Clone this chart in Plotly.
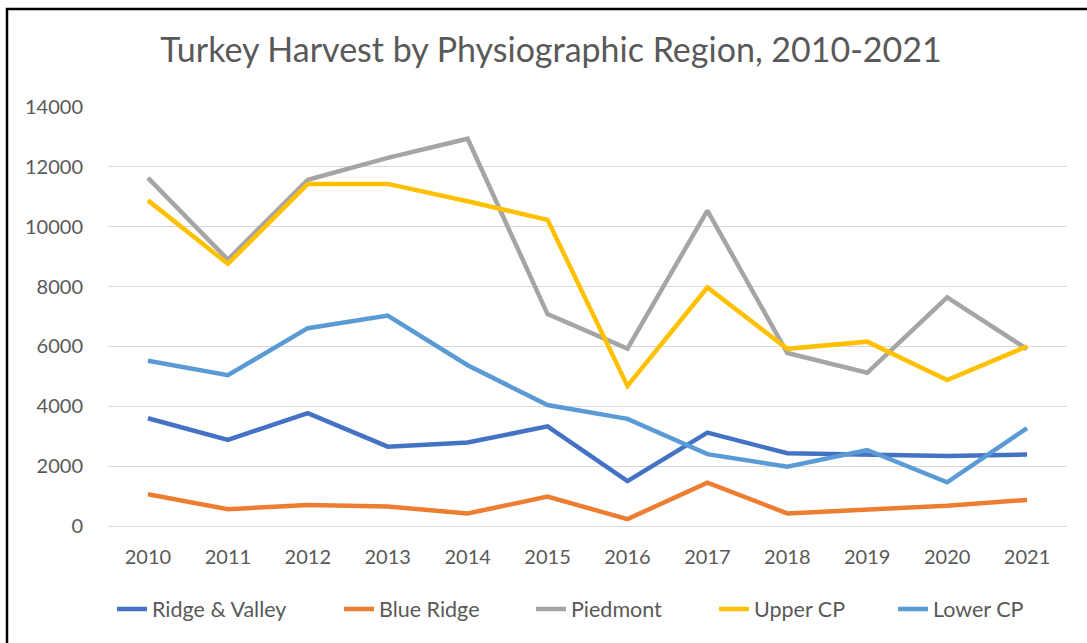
import plotly.graph_objects as go

years = ["2010", "2011", "2012", "2013", "2014", "2015", "2016", "2017", "2018", "2019", "2020", "2021"]

ridge_valley = [3600, 2880, 3770, 2650, 2790, 3330, 1500, 3120, 2430, 2370, 2340, 2390]
blue_ridge = [1060, 560, 700, 650, 420, 980, 230, 1450, 420, 550, 680, 870]
piedmont = [11630, 8900, 11570, 12300, 12940, 7080, 5930, 10540, 5780, 5120, 7640, 5910]
upper_cp = [10880, 8760, 11430, 11430, 10850, 10230, 4680, 7970, 5920, 6160, 4880, 6000]
lower_cp = [5520, 5040, 6610, 7030, 5370, 4040, 3580, 2400, 1980, 2540, 1460, 3270]

series = [
    ("Ridge & Valley", ridge_valley, "#4472C4"),
    ("Blue Ridge", blue_ridge, "#ED7D31"),
    ("Piedmont", piedmont, "#A5A5A5"),
    ("Upper CP", upper_cp, "#FFC000"),
    ("Lower CP", lower_cp, "#5B9BD5"),
]
# left edge (px) of each legend entry's text in the reference
legend_text_x = [152, 379, 571, 754, 933]

FONT = "Lato"
TXT = "#595959"

W, H = 1087, 643
L, R, T, B = 108, 20, 107, 117
pw = W - L - R
ph = H - T - B

fig = go.Figure()
legend_layouts = {}
for i, (name, vals, color) in enumerate(series):
    key = "legend" if i == 0 else f"legend{i + 1}"
    fig.add_trace(go.Scatter(x=years, y=vals, name=name, mode="lines",
                             line=dict(color=color, width=4.5), legend=key))
    legend_layouts[key] = dict(
        orientation="h", xref="container", yref="container",
        x=(legend_text_x[i] - 40) / W, xanchor="left",
        y=1 - 609 / H, yanchor="middle",
        font=dict(family=FONT, size=21.5, color=TXT),
        bgcolor="rgba(0,0,0,0)", borderwidth=0,
    )

fig.update_layout(
    width=W, height=H,
    margin=dict(l=L, r=R, t=T, b=B),
    paper_bgcolor="white", plot_bgcolor="white",
    font=dict(family=FONT, color=TXT, size=20),
    title=dict(text="Turkey Harvest by Physiographic Region, 2010-2021",
               x=551 / W, xref="container", xanchor="center",
               y=1 - 50 / H, yref="container", yanchor="middle",
               font=dict(family=FONT, size=34, color=TXT)),
    xaxis=dict(type="category", range=[-0.5, 11.5], showgrid=False,
               showline=False, ticks="", ticklabelstandoff=17,
               tickfont=dict(family=FONT, size=20, color=TXT)),
    yaxis=dict(range=[0, 14000], dtick=2000, tickformat="d", showgrid=True,
               gridcolor="#D9D9D9", gridwidth=1.3,
               zeroline=True, zerolinecolor="#D9D9D9", zerolinewidth=1.3,
               ticks="", ticklabelstandoff=24,
               tickfont=dict(family=FONT, size=20, color=TXT)),
    showlegend=True,
    **legend_layouts,
)

# outer chart border (top and left visible; rest lies beyond the image)
fig.add_shape(type="rect", xref="paper", yref="paper",
              x0=(7 - L) / pw, x1=(1110 - L) / pw,
              y0=(H - B - 670) / ph, y1=(H - B - 9) / ph,
              line=dict(color="black", width=2.5), fillcolor="rgba(0,0,0,0)",
              layer="above")

fig.write_html("out.html", config={"displayModeBar": False},
               post_script="document.body.style.margin='0';document.body.style.overflow='hidden';")
